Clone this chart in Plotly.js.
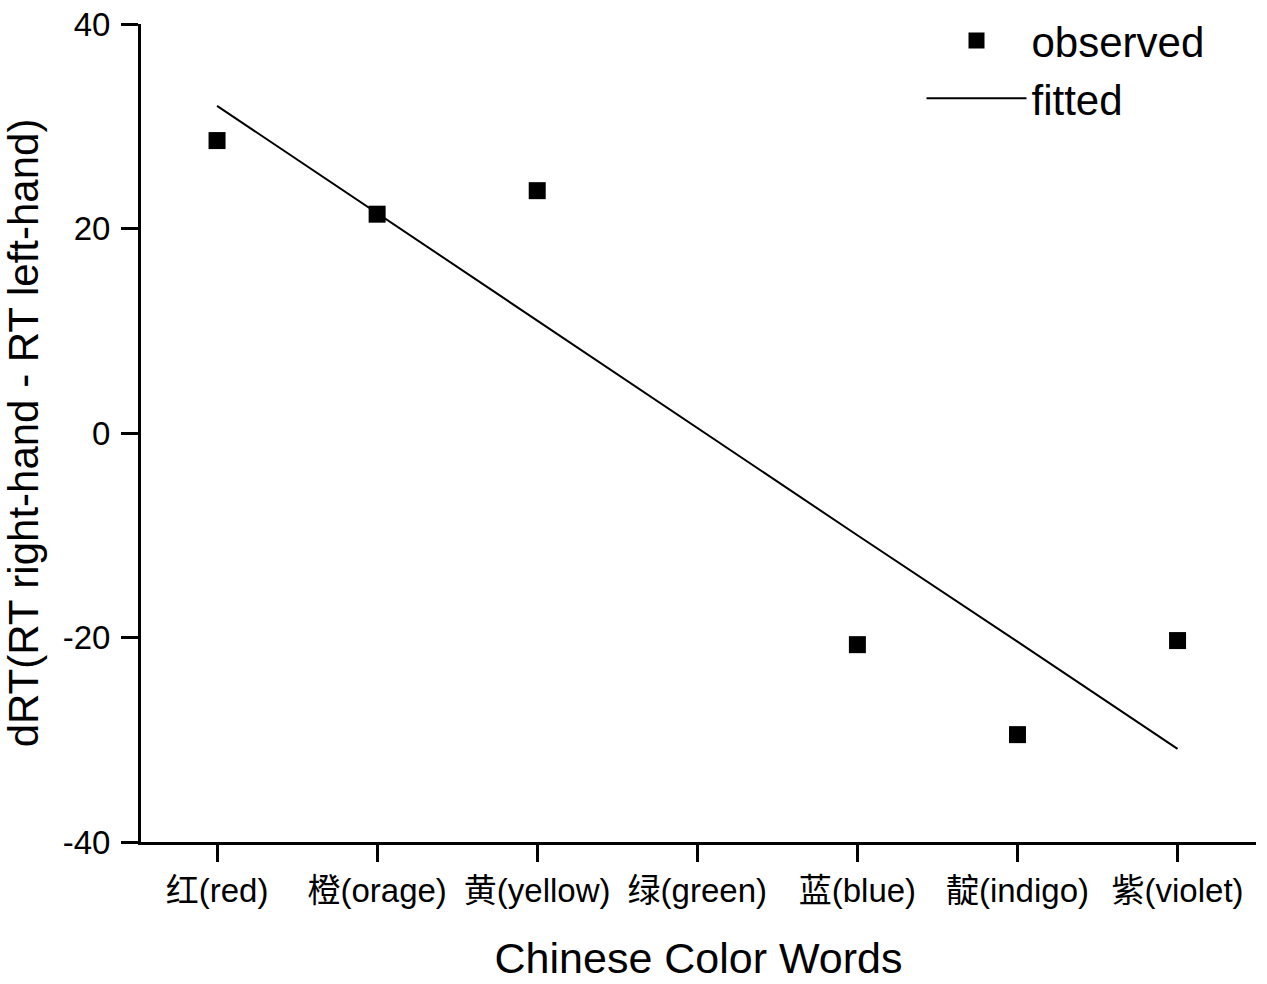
<!DOCTYPE html>
<html>
<head>
<meta charset="utf-8">
<script src="https://cdn.plot.ly/plotly-3.0.1.min.js"></script>
<style>
  html, body { margin: 0; padding: 0; background: #fff; }
  #chart { width: 1267px; height: 984px; }
</style>
</head>
<body>
<div id="chart"></div>
<script>
// colour words on the x axis
const categories = ['红(red)', '橙(orage)', '黄(yellow)', '绿(green)', '蓝(blue)', '靛(indigo)', '紫(violet)'];
// observed dRT per colour word (green has no point)
const observed = [28.6, 21.4, 23.7, null, -20.7, -29.5, -20.3];
// fitted line values
const fitted = [32.0, 21.5, 11.0, 0.5, -10.0, -20.4, -30.9];
const yTicks = [-40, -20, 0, 20, 40];

const FONT = 'Liberation Sans, Arial, Noto Sans CJK SC, sans-serif';

const data = [
    {
        x: categories,
        y: observed,
        type: 'scatter',
        mode: 'markers',
        name: 'observed',
        marker: {symbol: 'square', size: 17, color: '#000'},
        cliponaxis: false
    },
    {
        x: categories,
        y: fitted,
        type: 'scatter',
        mode: 'lines',
        name: 'fitted',
        line: {color: '#000', width: 2}
    }
];

const layout = {
    width: 1267,
    height: 984,
    paper_bgcolor: '#fff',
    plot_bgcolor: '#fff',
    font: {family: FONT, color: '#000', size: 33},
    margin: {l: 141, r: 11, t: 24, b: 142, autoexpand: false},
    showlegend: true,
    legend: {
        x: 0.70,
        y: 1.021,
        xanchor: 'left',
        yanchor: 'top',
        bgcolor: 'rgba(0,0,0,0)',
        font: {family: FONT, size: 42, color: '#000'},
        itemwidth: 100,
        tracegroupgap: 0
    },
    xaxis: {
        type: 'category',
        categoryorder: 'array',
        categoryarray: categories,
        range: [-0.475, 6.49],
        showline: true,
        linecolor: '#000',
        linewidth: 3,
        showgrid: false,
        zeroline: false,
        ticks: 'outside',
        ticklen: 17,
        tickwidth: 3,
        tickcolor: '#000',
        tickfont: {family: FONT, size: 33},
        title: {text: 'Chinese Color Words', font: {family: FONT, size: 43}, standoff: 36}
    },
    yaxis: {
        range: [-40, 40],
        tickvals: yTicks,
        ticktext: yTicks.map(String),
        showline: true,
        linecolor: '#000',
        linewidth: 3,
        showgrid: false,
        zeroline: false,
        ticks: 'outside',
        ticklen: 17,
        tickwidth: 3,
        tickcolor: '#000',
        tickfont: {family: FONT, size: 33},
        ticklabelstandoff: 4,
        title: {text: 'dRT(RT right-hand - RT left-hand)', font: {family: FONT, size: 42}, standoff: 14}
    }
};

Plotly.newPlot('chart', data, layout, {displayModeBar: false, staticPlot: true});
</script>
</body>
</html>
